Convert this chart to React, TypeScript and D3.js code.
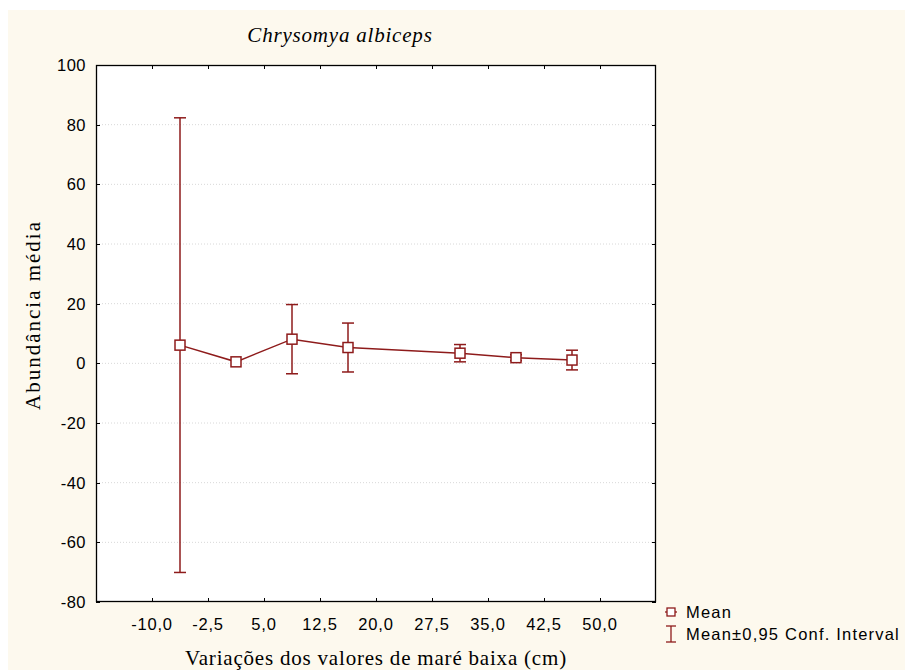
import React, { useEffect, useRef } from 'react';
import * as d3 from 'd3';

// bin centres (cm) and the mean abundance with its 95% CI half-width
const tideLevels = [-6.25, 1.25, 8.75, 16.25, 31.25, 38.75, 46.25];
const meanValues = [6.1, 0.5, 8.1, 5.3, 3.4, 1.9, 1.1];
const ciHalfWidth = [76.2, 0, 11.6, 8.2, 2.9, 1.0, 3.3];
const xTicks = [-10, -2.5, 5, 12.5, 20, 27.5, 35, 42.5, 50];
const yTicks = [-80, -60, -40, -20, 0, 20, 40, 60, 80, 100];

const RED = '#8e1b1b';

export default function App() {
  const ref = useRef<SVGSVGElement>(null);

  useEffect(() => {
    if (!ref.current) return;
    const svg = d3.select(ref.current);
    svg.selectAll('*').remove();

    const left = 96, right = 656, top = 65, bottom = 602;

    const x = d3.scaleLinear().domain([-17.5, 57.5]).range([left, right]);
    const y = d3.scaleLinear().domain([-80, 100]).range([bottom, top]);

    // cream page
    svg.append('rect')
      .attr('x', 8).attr('y', 10)
      .attr('width', 897).attr('height', 660)
      .attr('fill', '#fdf9ee');

    // plot area
    svg.append('rect')
      .attr('x', left).attr('y', top)
      .attr('width', right - left).attr('height', bottom - top)
      .attr('fill', '#fff');

    // dotted horizontal grid
    svg.append('g')
      .selectAll('line')
      .data(yTicks.filter((t) => t > -80 && t < 100))
      .enter()
      .append('line')
      .attr('x1', left).attr('x2', right)
      .attr('y1', (d) => y(d)).attr('y2', (d) => y(d))
      .attr('stroke', '#d8d8d8')
      .attr('stroke-dasharray', '1,2');

    // inward ticks on all four sides
    const ticks = svg.append('g').attr('stroke', '#000').attr('stroke-width', 1);
    xTicks.forEach((t) => {
      const px = Math.round(x(t)) + 0.5;
      ticks.append('line').attr('x1', px).attr('x2', px).attr('y1', bottom).attr('y2', bottom - 4);
      ticks.append('line').attr('x1', px).attr('x2', px).attr('y1', top).attr('y2', top + 4);
    });
    yTicks.forEach((t) => {
      const py = Math.round(y(t)) + 0.5;
      ticks.append('line').attr('x1', left).attr('x2', left + 4).attr('y1', py).attr('y2', py);
      ticks.append('line').attr('x1', right).attr('x2', right - 4).attr('y1', py).attr('y2', py);
    });

    // frame
    svg.append('rect')
      .attr('x', left + 0.5).attr('y', top + 0.5)
      .attr('width', right - left - 1).attr('height', bottom - top - 1)
      .attr('fill', 'none')
      .attr('stroke', '#000')
      .attr('stroke-width', 1.3);

    const sans = "'Liberation Sans', Arial, sans-serif";
    const serif = "'Liberation Serif', 'Times New Roman', serif";

    // y tick labels
    svg.append('g')
      .selectAll('text')
      .data(yTicks)
      .enter()
      .append('text')
      .attr('x', 86)
      .attr('y', (d) => y(d) + 6)
      .attr('text-anchor', 'end')
      .attr('font-family', sans)
      .attr('font-size', 16.5)
      .attr('letter-spacing', 0.5)
      .text((d) => String(d));

    // x tick labels
    const fmt = (v: number) => v.toFixed(1).replace('.', ',');
    svg.append('g')
      .selectAll('text')
      .data(xTicks)
      .enter()
      .append('text')
      .attr('x', (d) => x(d))
      .attr('y', 630)
      .attr('text-anchor', 'middle')
      .attr('font-family', sans)
      .attr('font-size', 16.5)
      .attr('letter-spacing', 0.8)
      .text((d) => fmt(d));

    // titles
    svg.append('text')
      .attr('x', 340).attr('y', 42)
      .attr('text-anchor', 'middle')
      .attr('font-family', serif)
      .attr('font-style', 'italic')
      .attr('font-size', 21)
      .attr('letter-spacing', 0.8)
      .text('Chrysomya albiceps');

    svg.append('text')
      .attr('x', (left + right) / 2).attr('y', 665)
      .attr('text-anchor', 'middle')
      .attr('font-family', serif)
      .attr('font-size', 21)
      .attr('letter-spacing', 0.8)
      .text('Variações dos valores de maré baixa (cm)');

    svg.append('text')
      .attr('transform', `translate(40,315) rotate(-90)`)
      .attr('text-anchor', 'middle')
      .attr('font-family', serif)
      .attr('font-size', 21)
      .attr('letter-spacing', 2)
      .text('Abundância média');

    const pts = tideLevels.map((t, i) => ({ t, m: meanValues[i], ci: ciHalfWidth[i] }));

    // mean line
    const line = d3.line<any>().x((d) => x(d.t)).y((d) => y(d.m));
    svg.append('path')
      .attr('d', line(pts))
      .attr('fill', 'none')
      .attr('stroke', RED)
      .attr('stroke-width', 1.5);

    // error bars
    const eb = svg.append('g').attr('stroke', RED).attr('stroke-width', 1.5);
    pts.filter((d) => d.ci > 0).forEach((d) => {
      const cx = x(d.t);
      eb.append('line').attr('x1', cx).attr('x2', cx).attr('y1', y(d.m + d.ci)).attr('y2', y(d.m - d.ci));
      [d.m + d.ci, d.m - d.ci].forEach((v) => {
        eb.append('line').attr('x1', cx - 6).attr('x2', cx + 6).attr('y1', y(v)).attr('y2', y(v));
      });
    });

    // square markers
    svg.append('g')
      .selectAll('rect')
      .data(pts)
      .enter()
      .append('rect')
      .attr('x', (d) => x(d.t) - 5)
      .attr('y', (d) => y(d.m) - 5)
      .attr('width', 10).attr('height', 10)
      .attr('fill', '#fff')
      .attr('stroke', RED)
      .attr('stroke-width', 1.5);

    // legend
    const lg = svg.append('g');
    lg.append('line').attr('x1', 665).attr('x2', 677).attr('y1', 612).attr('y2', 612)
      .attr('stroke', RED).attr('stroke-width', 1.3);
    lg.append('rect').attr('x', 667).attr('y', 608).attr('width', 8).attr('height', 8)
      .attr('fill', '#fff').attr('stroke', RED).attr('stroke-width', 1.3);
    lg.append('text').attr('x', 686).attr('y', 618)
      .attr('font-family', sans).attr('font-size', 16.5).attr('letter-spacing', 1.2)
      .text('Mean');

    const ex = 671;
    lg.append('line').attr('x1', ex).attr('x2', ex).attr('y1', 626).attr('y2', 642).attr('stroke', RED).attr('stroke-width', 1.3);
    lg.append('line').attr('x1', ex - 5).attr('x2', ex + 5).attr('y1', 626).attr('y2', 626).attr('stroke', RED).attr('stroke-width', 1.3);
    lg.append('line').attr('x1', ex - 5).attr('x2', ex + 5).attr('y1', 642).attr('y2', 642).attr('stroke', RED).attr('stroke-width', 1.3);
    lg.append('text').attr('x', 686).attr('y', 640)
      .attr('font-family', sans).attr('font-size', 16.5).attr('letter-spacing', 1.2)
      .text('Mean±0,95 Conf. Interval');
  }, []);

  return (
    <svg
      ref={ref}
      width={905}
      height={670}
      style={{ position: 'absolute', left: 0, top: 0, display: 'block' }}
    />
  );
}
